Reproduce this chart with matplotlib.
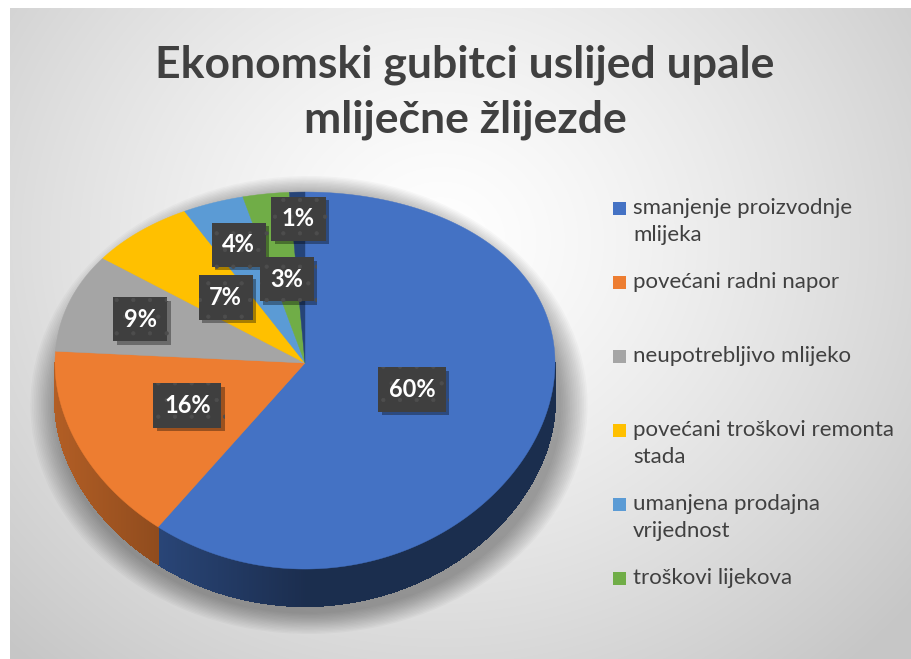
import textwrap
import numpy as np
import matplotlib as mpl
mpl.use('Agg')
import matplotlib.pyplot as plt
from matplotlib.patches import Polygon, Rectangle, Ellipse
from matplotlib.collections import PolyCollection
from matplotlib import patheffects as pe
from matplotlib.colors import to_rgb

# data
title = 'Ekonomski gubitci uslijed upale\nmliječne žlijezde'
categories = ['smanjenje proizvodnje mlijeka', 'povećani radni napor',
              'neupotrebljivo mlijeko', 'povećani troškovi remonta stada',
              'umanjena prodajna vrijednost', 'troškovi lijekova', 'ostalo']
values = [60, 16, 9, 7, 4, 3, 1]
colors = ['#4472C4', '#ED7D31', '#A5A5A5', '#FFC000', '#5B9BD5', '#70AD47', '#264478']
n_legend = 6   # last entry is cut off in the original legend
label_r = [0.45, 0.52, 0.70, 0.48, 0.72, 0.47, 0.83]

plt.rcParams['font.family'] = ['Lato', 'DejaVu Sans']
plt.rcParams['hatch.linewidth'] = 0.6

W, H = 912, 659
fig = plt.figure(figsize=(W / 100, H / 100), dpi=100)
ax = fig.add_axes([0, 0, 1, 1])
ax.set_xlim(0, W)
ax.set_ylim(H, 0)
ax.axis('off')

# background, radial grey gradient
yy, xx = np.mgrid[0:H, 0:W]
d = np.hypot((xx - 440) / 1.1, yy - 240)
g = 1.0 - 0.22 * np.clip(d / 560, 0, 1) ** 1.3
bg = np.dstack([g, g, g])
bg[:8, :] = 1.0
bg[:, :10] = 1.0
ax.imshow(bg, extent=(0, W, H, 0), zorder=0, interpolation='bilinear')

# pie geometry
cx, cy, rx, ry, k, depth = 305, 363, 250, 188.5, 0.093, 37


def proj(theta, r=1.0, dz=0.0):
    t = np.radians(theta)
    u = r * np.sin(t)
    v = -r * np.cos(t)
    return cx + rx * u, cy + ry * v * (1 + k * v) + dz


# soft shadow under the pie
for i in range(16):
    grow = 44 - i * 2.7
    ax.add_patch(Ellipse((cx + 4, cy + 42), 2 * rx + grow * 1.3, 2 * ry + depth + grow,
                         color='black', alpha=0.022, lw=0, zorder=1))

total = sum(values)
starts = np.concatenate([[0], np.cumsum(values)[:-1]]) / total * 360
ends = np.cumsum(values) / total * 360

# side walls (front half only)
quads, qcols = [], []
for a, b, c in zip(starts, ends, colors):
    lo, hi = max(a, 90), min(b, 270)
    if hi <= lo:
        continue
    ts = np.linspace(lo, hi, int((hi - lo) * 2) + 2)
    base = np.array(to_rgb(c))
    for t0, t1 in zip(ts[:-1], ts[1:]):
        x0, y0 = proj(t0)
        x1, y1 = proj(t1)
        f = 0.4 + 0.35 * max(0, -np.sin(np.radians((t0 + t1) / 2)))
        quads.append([(x0, y0), (x1, y1), (x1, y1 + depth), (x0, y0 + depth)])
        qcols.append(base * f)
ax.add_collection(PolyCollection(quads, facecolors=qcols, edgecolors=qcols,
                                 linewidths=0.8, antialiased=False, zorder=2))

# top face
for a, b, c in zip(starts, ends, colors):
    ts = np.linspace(a, b, max(int((b - a) * 2), 4))
    xs, ys = proj(ts)
    pts = [(cx, cy)] + list(zip(xs, ys))
    ax.add_patch(Polygon(pts, closed=True, facecolor=c, edgecolor=c, lw=0.3, zorder=3))

# data labels
for a, b, v, r in zip(starts, ends, values, label_r):
    x, y = proj((a + b) / 2, r)
    t = ax.text(x, y, f'{v / total * 100:.0f}%', color='white', fontsize=17,
                fontweight='bold', ha='center', va='center', zorder=6,
                bbox=dict(boxstyle='square,pad=0.45', facecolor='#3f3f3f',
                          edgecolor='#4d4d4d', lw=0, hatch='.'))
    t.get_bbox_patch().set_path_effects([
        pe.SimplePatchShadow(offset=(2.5, -2.5), shadow_rgbFace='black', alpha=0.35),
        pe.Normal()])

# title
ax.text(465, 92, title, ha='center', va='center', fontsize=32, fontweight='bold',
        color='#404040', linespacing=1.45, zorder=6)

# legend
for i in range(n_legend):
    y = 208 + i * 74
    ax.add_patch(Rectangle((613, y - 6.5), 13, 13, facecolor=colors[i], lw=0, zorder=6))
    ax.text(633, y - 10, textwrap.fill(categories[i], 25), ha='left', va='top',
            fontsize=16, color='#404040', linespacing=1.45, zorder=6)

fig.savefig('out.png', dpi=100)
